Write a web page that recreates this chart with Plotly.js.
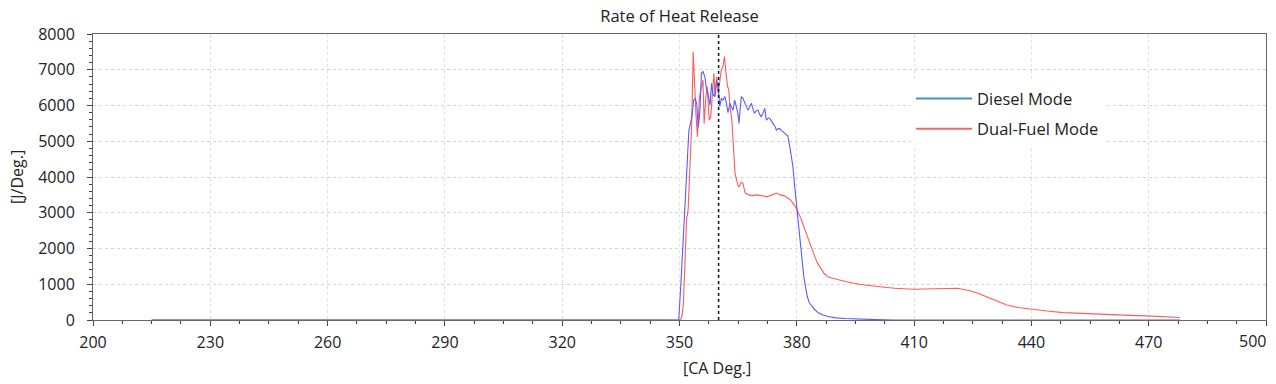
<!DOCTYPE html>
<html>
<head>
<meta charset="utf-8">
<script src="https://cdn.plot.ly/plotly-3.0.1.min.js"></script>
<style>html,body{margin:0;padding:0;background:#fff;}#chart{width:1276px;height:384px;}</style>
</head>
<body>
<div id="chart"></div>
<script>
// Crank angle [CA Deg.] and rate of heat release [J/Deg.]
const dieselX = [215, 349.8, 350.3, 350.7, 351.2, 351.6, 352.0, 352.4, 352.8, 353.2, 353.6, 354.0, 354.4, 354.8, 355.2, 355.6, 356.0, 356.5, 356.9, 357.3, 357.8, 358.2, 358.6, 359.0, 359.5, 359.9, 360.3, 360.7, 361.1, 361.6, 362.0, 362.4, 362.9, 363.3, 363.7, 364.1, 364.5, 364.9, 365.2, 365.5, 365.8, 366.2, 366.6, 367.0, 367.5, 367.9, 368.4, 368.8, 369.2, 369.6, 370.1, 370.5, 370.9, 371.4, 371.8, 372.2, 372.7, 373.1, 373.5, 373.9, 374.4, 374.8, 375.2, 375.6, 376.1, 376.5, 376.9, 377.3, 377.7, 378.2, 378.6, 379.0, 379.4, 379.8, 380.2, 380.6, 381.0, 381.4, 381.8, 382.2, 382.7, 383.2, 383.8, 384.5, 385.5, 386.7, 388, 390, 392.5, 396, 400, 405, 478];
const dieselY = [0, 0, 900, 1700, 2600, 3500, 4500, 5300, 5500, 5700, 6150, 6200, 6060, 5400, 5800, 6900, 6950, 6800, 6450, 6340, 6000, 6620, 6300, 6250, 6700, 6530, 5970, 6200, 6150, 6250, 6060, 5800, 6060, 5950, 5870, 6150, 5970, 5800, 5500, 6000, 6250, 6200, 6100, 6000, 5870, 5950, 6060, 5900, 5780, 5850, 5870, 5750, 5690, 5800, 5920, 5590, 5650, 5640, 5550, 5500, 5420, 5310, 5350, 5360, 5290, 5270, 5220, 5170, 5150, 4850, 4550, 4300, 3800, 3350, 2900, 2500, 2050, 1600, 1200, 950, 650, 480, 380, 300, 200, 140, 100, 60, 40, 20, 10, 0, 0];

const dualX = [215, 350.3, 350.7, 351.0, 351.4, 351.8, 352.2, 352.6, 353.1, 353.5, 353.9, 354.2, 354.6, 355.1, 355.6, 356.0, 356.3, 356.7, 357.1, 357.6, 358.0, 358.4, 358.8, 359.1, 359.5, 359.9, 360.3, 360.7, 361.1, 361.5, 361.9, 362.3, 362.6, 362.9, 363.4, 363.8, 364.2, 364.6, 365.0, 365.3, 365.7, 366.2, 366.5, 366.8, 367.7, 368.7, 369.8, 371.0, 372.4, 373.7, 374.9, 375.7, 376.7, 377.6, 378.4, 379.3, 380.1, 381.0, 381.8, 382.7, 383.6, 384.5, 385.3, 386.2, 387.0, 388.0, 389.5, 391.2, 392.7, 396, 401.3, 405, 409.8, 414, 418.3, 421, 424.3, 426.5, 428.6, 431, 433.7, 436.5, 439.6, 444, 448.2, 452, 456.7, 461, 465.2, 469.5, 473.7, 476.5, 478];
const dualY = [0, 0, 150, 470, 1590, 2800, 3070, 4380, 5400, 7500, 6250, 5780, 5130, 6250, 6500, 6710, 5500, 6200, 6530, 5590, 5690, 6250, 6900, 6250, 6800, 6340, 6620, 7000, 7090, 7370, 6900, 6530, 6450, 5970, 5590, 4850, 4100, 3920, 3750, 3730, 3850, 3830, 3650, 3550, 3500, 3480, 3500, 3470, 3450, 3500, 3550, 3500, 3480, 3420, 3360, 3220, 3080, 2850, 2600, 2350, 2050, 1800, 1590, 1450, 1300, 1200, 1150, 1110, 1070, 1000, 930, 890, 860, 860, 880, 890, 820, 740, 650, 530, 420, 350, 300, 250, 205, 185, 170, 150, 130, 115, 100, 90, 70];

const seriesNames = ['Diesel Mode', 'Dual-Fuel Mode'];
const xTicks = [200, 230, 260, 290, 320, 350, 380, 410, 440, 470, 500];
const yTicks = [0, 1000, 2000, 3000, 4000, 5000, 6000, 7000, 8000];
const markerCA = 360;

const font = 'Open Sans, Noto Sans, sans-serif';
const txt = '#222';

const traces = [
  {x: dualX, y: dualY, type: 'scatter', mode: 'lines', showlegend: false,
   line: {color: 'rgb(255,90,90)', width: 1.1}},
  {x: dieselX, y: dieselY, type: 'scatter', mode: 'lines', showlegend: false,
   line: {color: 'rgb(90,90,255)', width: 1.1}},
  {x: [null], y: [null], type: 'scatter', mode: 'lines', name: seriesNames[0], legendgroup: 'a',
   line: {color: 'rgb(52,152,219)', width: 2}},
  {x: [null], y: [null], type: 'scatter', mode: 'lines', name: seriesNames[1], legendgroup: 'b',
   line: {color: 'rgb(245,105,100)', width: 2}}
];

// last x tick label is drawn pulled inside the frame, as in the source
const xText = xTicks.map((v, i) => i === xTicks.length - 1 ? '' : String(v));

const layout = {
  width: 1276, height: 384,
  margin: {l: 93, r: 10, t: 34, b: 64},
  paper_bgcolor: '#fff', plot_bgcolor: '#fff',
  font: {family: font, size: 16, color: txt},
  title: {text: 'Rate of Heat Release', font: {family: font, size: 16.5, color: txt},
          x: 0.5, xref: 'paper', y: 0.958, yanchor: 'middle'},
  xaxis: {range: [200, 500], tickvals: xTicks, ticktext: xText,
          showline: true, linecolor: '#666', linewidth: 1, mirror: true,
          ticks: 'outside', ticklen: 5, tickcolor: '#444', ticklabelstandoff: 3,
          showgrid: true, gridcolor: '#e0e0e0', griddash: 'dot', gridwidth: 1,
          zeroline: false, tickfont: {size: 16, color: txt},
          minor: {dtick: 7.5, tick0: 200, ticks: 'outside', ticklen: 3, tickcolor: '#444', showgrid: false}},
  yaxis: {range: [0, 8000], tickvals: yTicks, ticktext: yTicks.map(String),
          showline: true, linecolor: '#666', linewidth: 1, mirror: true,
          ticks: 'outside', ticklen: 5, tickcolor: '#444', ticklabelstandoff: 9,
          showgrid: true, gridcolor: '#d4d4d4', griddash: 'dot', gridwidth: 1,
          zeroline: false, tickfont: {size: 16, color: txt},
          minor: {dtick: 200, tick0: 0, ticks: 'outside', ticklen: 3, tickcolor: '#444', showgrid: false}},
  legend: {x: 0.6974, y: 0.835, xanchor: 'left', yanchor: 'top', bgcolor: '#fff', itemwidth: 56,
           font: {family: font, size: 16.5, color: txt}, traceorder: 'grouped', tracegroupgap: 6},
  shapes: [{type: 'line', xref: 'x', yref: 'paper', x0: markerCA, x1: markerCA, y0: 0, y1: 1,
            line: {color: '#111', width: 1.5, dash: 'dot'}}],
  annotations: [
    {text: String(xTicks[xTicks.length - 1]), xref: 'x', yref: 'paper', x: xTicks[xTicks.length - 1], xshift: 2,
     y: -0.073, xanchor: 'right', yanchor: 'middle', showarrow: false, font: {family: font, size: 16, color: txt}},
    {text: '[CA Deg.]', xref: 'paper', yref: 'paper', x: 0.532, y: -0.168, xanchor: 'center', yanchor: 'middle',
     showarrow: false, font: {family: font, size: 16, color: txt}},
    {text: '[J/Deg.]', xref: 'paper', yref: 'paper', x: -0.0648, y: 0.5, xanchor: 'center', yanchor: 'middle',
     textangle: -90, showarrow: false, font: {family: font, size: 16, color: txt}}
  ]
};

Plotly.newPlot('chart', traces, layout, {staticPlot: true, displayModeBar: false});
</script>
</body>
</html>
